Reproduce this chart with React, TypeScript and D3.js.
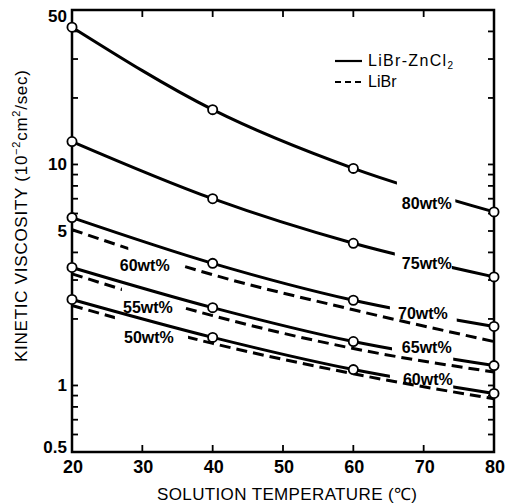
import * as d3 from "d3";

// temperatures where the curves were measured (°C)
const temps = [20, 40, 60, 80];

// LiBr-ZnCl2 (solid, with circles), kinetic viscosity 10^-2 cm2/sec
const znCl80 = [41.8, 17.7, 9.6, 6.1];
const znCl75 = [12.7, 7.0, 4.4, 3.1];
const znCl70 = [5.75, 3.57, 2.43, 1.85];
const znCl65 = [3.42, 2.25, 1.58, 1.23];
const znCl60 = [2.45, 1.65, 1.18, 0.92];

// LiBr (dashed)
const libr60 = [5.07, 3.17, 2.2, 1.58];
const libr55 = [3.2, 2.07, 1.47, 1.15];
const libr50 = [2.3, 1.55, 1.13, 0.87];

const yTickLabels = [0.5, 1, 5, 10, 50];

const series = [
  { id: "z80", vals: znCl80, dashed: false, label: "80wt%", gap: [66.2, 74.5], at: [66.9, 6.32] },
  { id: "z75", vals: znCl75, dashed: false, label: "75wt%", gap: [65.9, 74.0], at: [66.9, 3.38] },
  { id: "z70", vals: znCl70, dashed: false, label: "70wt%", gap: [65.2, 74.7], at: [66.35, 2.0] },
  { id: "z65", vals: znCl65, dashed: false, label: "65wt%", gap: [65.5, 74.2], at: [66.9, 1.4] },
  { id: "z60", vals: znCl60, dashed: false, label: "60wt%", gap: [65.2, 74.2], at: [67.05, 1.0] },
  { id: "l60", vals: libr60, dashed: true, label: "60wt%", gap: [28.0, 35.6], at: [26.8, 3.31] },
  { id: "l55", vals: libr55, dashed: true, label: "55wt%", gap: [27.1, 35.6], at: [27.25, 2.12] },
  { id: "l50", vals: libr50, dashed: true, label: "50wt%", gap: [26.1, 36.5], at: [27.4, 1.55] },
];

const W = 507;
const H = 504;
const m = { left: 72, right: 13, top: 10, bottom: 52 };
const font = "'Liberation Sans', Arial, Helvetica, sans-serif";

export default function App() {
  const x = d3.scaleLinear().domain([20, 80]).range([m.left, W - m.right]);
  const y = d3.scaleLog().domain([0.5, 50]).range([H - m.bottom, m.top]);
  const x0 = m.left, x1 = W - m.right, y0 = H - m.bottom, y1 = m.top;

  const line = d3
    .line<number>()
    .x((d, i) => x(temps[i]))
    .y((d) => y(d))
    .curve(d3.curveMonotoneX);

  const yTicks = y.ticks();
  const xTicks = x.ticks(6);

  return (
    <svg width={W} height={H} style={{ position: "absolute", left: 0, top: 0, background: "#fff" }}>
      <defs>
        {series.map((s) => (
          <clipPath id={"clip-" + s.id} key={s.id}>
            <rect x={0} y={0} width={x(s.gap[0])} height={H} />
            <rect x={x(s.gap[1])} y={0} width={W - x(s.gap[1])} height={H} />
          </clipPath>
        ))}
      </defs>

      {/* frame */}
      <rect x={x0} y={y1} width={x1 - x0} height={y0 - y1} fill="none" stroke="#000" strokeWidth={2.5} />

      {/* ticks, inward on all four sides */}
      <g stroke="#000" strokeWidth={1.8}>
        {yTicks.map((t) => (
          <g key={"y" + t}>
            <line x1={x0} x2={x0 + 6} y1={y(t)} y2={y(t)} />
            <line x1={x1} x2={x1 - 6} y1={y(t)} y2={y(t)} />
          </g>
        ))}
        {xTicks.filter((t) => t > 20 && t < 80).map((t) => (
          <g key={"x" + t}>
            <line x1={x(t)} x2={x(t)} y1={y0} y2={y0 - 7} />
            <line x1={x(t)} x2={x(t)} y1={y1} y2={y1 + 7} />
          </g>
        ))}
      </g>

      {/* tick labels */}
      <g fontFamily={font} fontSize={17} fontWeight="bold" fill="#000">
        {yTickLabels.map((t) => (
          <text key={t} x={x0 - 5} y={Math.min(Math.max(y(t), 16), 447)} textAnchor="end" dominantBaseline="central">
            {t === 0.5 ? "0.5" : t}
          </text>
        ))}
        {xTicks.map((t) => (
          <text key={t} x={x(t) + 1} y={473} textAnchor="middle" fontSize={18}>
            {t}
          </text>
        ))}
      </g>

      {/* curves */}
      {series.map((s) => (
        <path
          key={s.id}
          d={line(s.vals) || ""}
          fill="none"
          stroke="#000"
          strokeWidth={3}
          strokeDasharray={s.dashed ? "11 6" : undefined}
          clipPath={`url(#clip-${s.id})`}
        />
      ))}

      {/* measured points */}
      {series.filter((s) => !s.dashed).map((s) =>
        s.vals.map((v, i) => (
          <circle key={s.id + i} cx={x(temps[i])} cy={y(v)} r={4.6} fill="#fff" stroke="#000" strokeWidth={1.8} />
        ))
      )}

      {/* curve labels */}
      <g fontFamily={font} fontSize={16} fontWeight="bold" fill="#000">
        {series.map((s) => (
          <text key={s.id} x={x(s.at[0])} y={y(s.at[1])}>
            {s.label}
          </text>
        ))}
      </g>

      {/* legend */}
      <g fontFamily={font} fontSize={16} fill="#000">
        <line x1={335} x2={362} y1={61} y2={61} stroke="#000" strokeWidth={2.2} />
        <text x={368} y={66} textLength={85} lengthAdjust="spacing">
          LiBr-ZnCl<tspan fontSize={10} dy={3}>2</tspan>
        </text>
        <line x1={335} x2={362} y1={82} y2={82} stroke="#000" strokeWidth={2.2} strokeDasharray="6 4" />
        <text x={368} y={87}>LiBr</text>
      </g>

      {/* axis titles */}
      <text x={287} y={500} textAnchor="middle" fontFamily={font} fontSize={17} textLength={260} lengthAdjust="spacing">
        SOLUTION TEMPERATURE (℃)
      </text>
      <text
        transform="translate(27,216) rotate(-90)"
        textAnchor="middle"
        fontFamily={font}
        fontSize={17}
        textLength={292}
        lengthAdjust="spacing"
      >
        KINETIC VISCOSITY  (10<tspan fontSize={11} dy={-7}>−2</tspan>
        <tspan dy={7}>cm</tspan>
        <tspan fontSize={11} dy={-7}>2</tspan>
        <tspan dy={7}>/sec)</tspan>
      </text>
    </svg>
  );
}
